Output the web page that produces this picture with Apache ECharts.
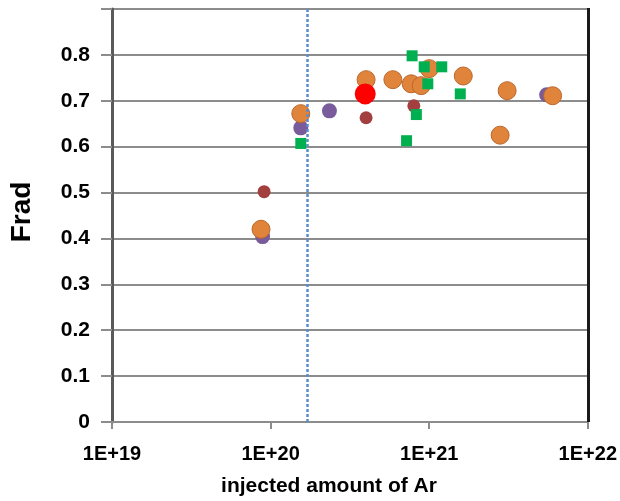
<!DOCTYPE html>
<html><head><meta charset="utf-8">
<script src="https://cdn.jsdelivr.net/npm/echarts@6/dist/echarts.min.js"></script>
<style>html,body{margin:0;padding:0;background:#fff}#c{width:620px;height:501px}</style>
</head><body><div id="c"></div>
<script>
const xTickLabels = ['1E+19','1E+20','1E+21','1E+22'];
const yTicks = [0,0.1,0.2,0.3,0.4,0.5,0.6,0.7,0.8,0.9];
const purpleData = [[8.9e19,0.404],[1.55e20,0.641],[2.35e20,0.678],[5.5e21,0.713]];
const darkRedData = [[9.1e19,0.502],[4.0e20,0.663],[8.0e20,0.689]];
const orangeData = [[8.7e19,0.42],[1.55e20,0.672],[4.0e20,0.746],[5.9e20,0.746],[7.7e20,0.737],[8.9e20,0.733],[1.0e21,0.77],[1.64e21,0.754],[3.1e21,0.722],[6.0e21,0.711],[2.8e21,0.625]];
const redData = [[3.95e20,0.715]];
const greenData = [[1.55e20,0.607],[7.8e20,0.798],[9.3e20,0.774],[1.2e21,0.774],[9.8e20,0.737],[1.57e21,0.715],[8.3e20,0.67],[7.2e20,0.613]];
const markX = 1.7e20;

const chart = echarts.init(document.getElementById('c'));
const labelFont = {fontFamily:'Liberation Sans', fontWeight:'bold', color:'#000'};
chart.setOption({
  animation:false,
  grid:{left:112,right:32,top:9,bottom:79,show:true,borderColor:'#000',borderWidth:1},
  xAxis:{type:'log',logBase:10,min:1e19,max:1e22,
    axisLine:{show:true,onZero:false,lineStyle:{color:'#8c8c8c',width:2}},
    axisTick:{show:true,length:7,lineStyle:{color:'#8c8c8c',width:2}},
    minorTick:{show:false},
    splitLine:{show:false},
    axisLabel:{...labelFont,fontSize:20,margin:22,
      formatter:(v)=>{const e=Math.round(Math.log10(v));return xTickLabels[e-19]||'';}}
  },
  yAxis:{type:'value',min:0,max:0.9,interval:0.1,
    axisLine:{show:true,lineStyle:{color:'#5a5a5a',width:3}},
    axisTick:{show:true,length:11,lineStyle:{color:'#8c8c8c',width:2}},
    splitLine:{show:true,lineStyle:{color:'#8c8c8c',width:2}},
    axisLabel:{...labelFont,fontSize:21,margin:22,
      formatter:(v)=>{const t=yTicks.find(a=>Math.abs(a-v)<1e-9);return (t===undefined||t>=0.85)?'':String(t);}}
  },
  graphic:[
    {type:'text',x:22,y:212,rotation:Math.PI/2,style:{text:'Frad',font:'bold 28px "Liberation Sans"',fill:'#000',textAlign:'center',textVerticalAlign:'middle'}},
    {type:'text',x:329,y:486,style:{text:'injected amount of Ar',font:'bold 21px "Liberation Sans"',fill:'#000',textAlign:'center',textVerticalAlign:'middle'}},
    {type:'rect',shape:{x:587,y:8,width:3,height:414},style:{fill:'#1a1a1a'},z:10}
  ],
  series:[
    {type:'scatter',data:purpleData,symbolSize:15,itemStyle:{color:'#7a5c9c',opacity:1},z:2,
      markLine:{silent:true,symbol:'none',label:{show:false},
        lineStyle:{color:'#5a8ccc',type:[3,2],width:2.5},data:[{xAxis:markX}]}},
    {type:'scatter',data:darkRedData,symbolSize:13,itemStyle:{color:'#a3403f',opacity:1},z:3},
    {type:'scatter',data:orangeData,symbolSize:18,itemStyle:{color:'#e0843b',borderColor:'#b9672b',borderWidth:1,opacity:1},z:4},
    {type:'scatter',data:redData,symbolSize:21,itemStyle:{color:'#ff0000',opacity:1},z:5},
    {type:'scatter',data:greenData,symbol:'rect',symbolSize:11,itemStyle:{color:'#00b050',opacity:1},z:6}
  ]
});
</script></body></html>
